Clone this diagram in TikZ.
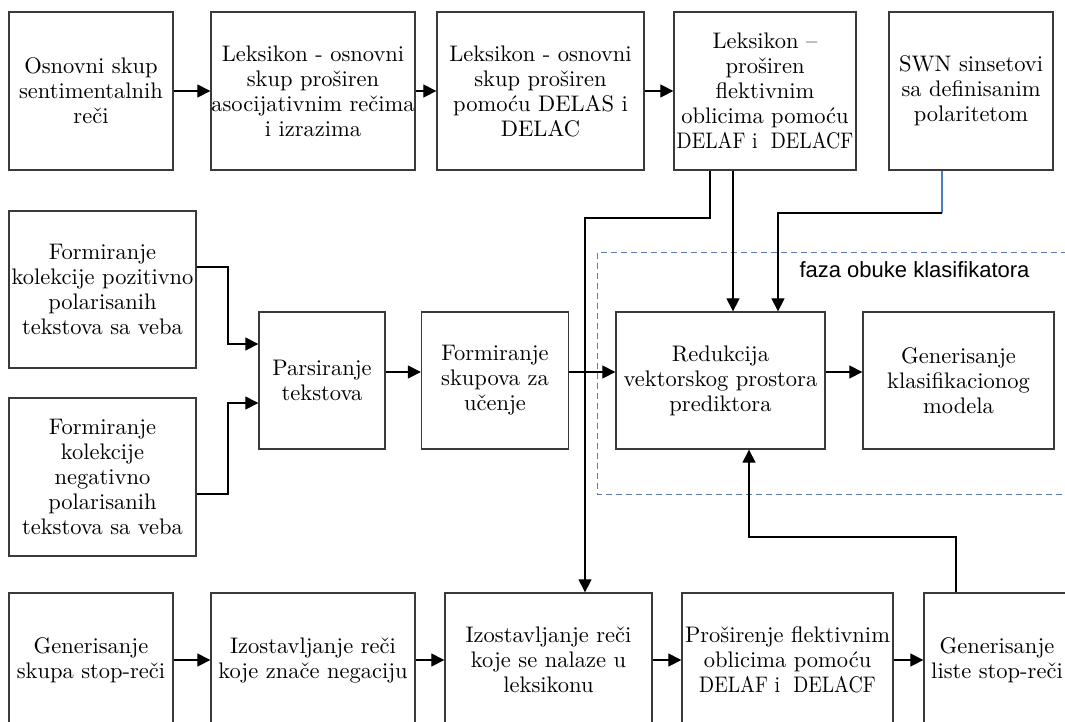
\documentclass[tikz,border=0pt]{standalone}
\usepackage{fontspec}
\setmainfont{lmroman10-regular}[Extension=.otf, BoldFont=lmroman10-bold, ItalicFont=lmroman10-italic]
\newfontfamily\labelsans{Liberation Sans}
\usetikzlibrary{arrows.meta}
\definecolor{boxline}{HTML}{3A3A3A}
\definecolor{phaseblue}{HTML}{5B7DB1}
\definecolor{swnblue}{HTML}{4A7EC2}
% narrow setting for the long DELAF/DELACF line
\newcommand{\delafline}{\scalebox{0.88}[1]{DELAF i\ \ DELACF}}
\begin{document}
\begin{tikzpicture}[x=1pt,y=-1pt,
  stage/.style={draw=boxline, line width=1.3pt, inner sep=0pt, align=center,
    font=\fontsize{22.5}{25}\selectfont},
  flow/.style={draw=black, line width=1.2pt, -{Triangle[length=13pt,width=13pt]}},
  link/.style={line width=1.2pt},
  phase/.style={draw=phaseblue, line width=1pt, dash pattern=on 6pt off 4pt}
]
\useasboundingbox (0,0) rectangle (1065,721);
\clip (0,0) rectangle (1065,721);

% training phase frame
\draw[phase] (597.5,252.5) rectangle (1085,494.5);
\node[font=\labelsans\fontsize{22}{24}\selectfont, inner sep=0pt] (phaselbl) at (914.5,270) {faza obuke klasifikatora};

% lexicon construction (top row)
\node[stage, minimum width=164pt, minimum height=158pt] (t1) at (91,91)
  {Osnovni skup\\sentimentalnih\\reči};
\node[stage, minimum width=204pt, minimum height=158pt] (t2) at (313,91)
  {Leksikon - osnovni\\skup proširen\\asocijativnim rečima\\i izrazima};
\node[stage, minimum width=207pt, minimum height=158pt] (t3) at (540.5,91)
  {Leksikon - osnovni\\skup proširen\\pomoću DELAS i\\DELAC};
\node[stage, minimum width=182pt, minimum height=158pt] (t4) at (765,91)
  {Leksikon –\\proširen\\flektivnim\\oblicima pomoću\\\delafline};
\node[stage, minimum width=164pt, minimum height=158pt] (t5) at (971,91)
  {SWN sinsetovi\\sa definisanim\\polaritetom};

% text collection and model building (middle row)
\node[stage, minimum width=187pt, minimum height=157pt] (pos) at (102.5,289.5)
  {Formiranje\\kolekcije pozitivno\\polarisanih\\tekstova sa veba};
\node[stage, minimum width=187pt, minimum height=158pt] (neg) at (102.5,477)
  {Formiranje\\kolekcije\\negativno\\polarisanih\\tekstova sa veba};
\node[stage, minimum width=126pt, minimum height=137pt] (pars) at (322,380.5)
  {Parsiranje\\tekstova};
\node[stage, minimum width=147pt, minimum height=137pt] (form) at (495,380.5)
  {Formiranje\\skupova za\\učenje};
\node[stage, minimum width=209pt, minimum height=137pt] (red) at (720.5,380.5)
  {Redukcija\\vektorskog prostora\\prediktora};
\node[stage, minimum width=191pt, minimum height=137pt] (gen) at (958.5,380.5)
  {Generisanje\\klasifikacionog\\modela};

% stop-word list (bottom row)
\node[stage, minimum width=164pt, minimum height=134pt] (b1) at (91,660)
  {Generisanje\\skupa stop-reči};
\node[stage, minimum width=204pt, minimum height=134pt] (b2) at (313,660)
  {Izostavljanje reči\\koje znače negaciju};
\node[stage, minimum width=207pt, minimum height=134pt] (b3) at (548.5,660)
  {Izostavljanje reči\\koje se nalaze u\\leksikonu};
\node[stage, minimum width=211pt, minimum height=134pt] (b4) at (787.5,660)
  {Proširenje flektivnim\\oblicima pomoću\\\delafline};
\node[stage, minimum width=146pt, minimum height=134pt] (b5) at (997,660)
  {Generisanje\\liste stop-reči};

% top row chain
\draw[flow] (t1.east) -- (t2.west);
\draw[flow] (t2.east) -- (t3.west);
\draw[flow] (t3.east) -- (t4.west);

% collections into parsing
\coordinate (posA) at (228,267);
\coordinate (posB) at (228,344);
\draw[flow] (posA -| pos.east) -- (posA) -- (posB) -- (posB -| pars.west);
\coordinate (negA) at (228,494);
\coordinate (negB) at (228,403);
\draw[flow] (negA -| neg.east) -- (negA) -- (negB) -- (negB -| pars.west);

% middle row chain
\coordinate (mid) at (0,372);
\draw[flow] (pars.east |- mid) -- (form.west |- mid);
\draw[flow] (form.east |- mid) -- (red.west |- mid);
\draw[flow] (red.east |- mid) -- (gen.west |- mid);

% lexicon feeds the stop-word filter and the reduction step
\coordinate (lexA) at (710,218);
\coordinate (lexB) at (585,218);
\draw[flow] (lexA |- t4.south) -- (lexA) -- (lexB) -- (lexB |- b3.north);
\coordinate (lexC) at (733,0);
\draw[flow] (lexC |- t4.south) -- (lexC |- red.north);

% SWN synsets into the reduction step
\coordinate (swnA) at (942,213);
\coordinate (swnB) at (778,213);
\draw[link, draw=swnblue] (swnA |- t5.south) -- (swnA);
\draw[flow] (swnA) -- (swnB) -- (swnB |- red.north);

% bottom row chain
\draw[flow] (b1.east) -- (b2.west);
\draw[flow] (b2.east) -- (b3.west);
\draw[flow] (b3.east) -- (b4.west);
\draw[flow] (b4.east) -- (b5.west);

% stop-word list back to the reduction step
\coordinate (stA) at (956,537);
\coordinate (stB) at (749,537);
\draw[flow] (stA |- b5.north) -- (stA) -- (stB) -- (stB |- red.south);
\end{tikzpicture}
\end{document}
